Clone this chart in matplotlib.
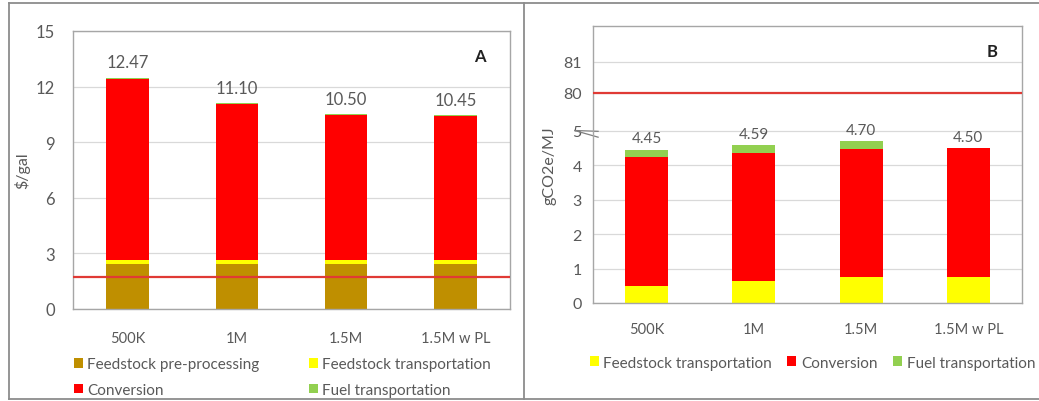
import matplotlib
matplotlib.use("Agg")
import matplotlib.pyplot as plt
import numpy as np
from matplotlib.lines import Line2D

plt.rcParams["font.family"] = ["Lato", "DejaVu Sans"]

# --- data ------------------------------------------------------------------ #
scenarios = ["500K", "1M", "1.5M", "1.5M w PL"]

# A: minimum fuel selling price, $/gal
cost_preproc = [2.45, 2.45, 2.45, 2.45]
cost_fs_trans = [0.20, 0.20, 0.20, 0.20]
cost_conversion = [9.77, 8.40, 7.80, 7.75]
cost_fuel_trans = [0.05, 0.05, 0.05, 0.05]
cost_total = [12.47, 11.10, 10.50, 10.45]
cost_reference = 1.75

# B: GHG emissions, gCO2e/MJ
ghg_fs_trans = [0.48, 0.63, 0.75, 0.75]
ghg_conversion = [3.76, 3.73, 3.73, 3.74]
ghg_fuel_trans = [0.21, 0.23, 0.22, 0.01]
ghg_total = [4.45, 4.59, 4.70, 4.50]
ghg_reference = 80.0

C_PRE = "#bf8f00"
C_FST = "#ffff00"
C_CONV = "#ff0000"
C_FUEL = "#92d050"
C_REF = "#e03a35"
C_TXT = "#595959"
C_GRID = "#d9d9d9"
C_BOX = "#a6a6a6"


def style_axes(ax):
    for s in ax.spines.values():
        s.set_color(C_BOX)
        s.set_linewidth(1.0)
    ax.tick_params(axis="both", length=0, colors=C_TXT, labelsize=12)
    ax.tick_params(axis="x", labelsize=10.5)
    ax.yaxis.grid(True, color=C_GRID, lw=0.9)
    ax.set_axisbelow(True)


def stack(ax, x, layers, width):
    bottom = np.zeros(len(x))
    handles = {}
    for label, vals, color in layers:
        h = ax.bar(x, vals, width, bottom=bottom, color=color, label=label,
                   edgecolor="none", zorder=2)
        handles[label] = h
        bottom += np.asarray(vals)
    return handles


fig = plt.figure(figsize=(10.39, 4.02), dpi=100)
x = np.arange(len(scenarios))

# --- panel A -------------------------------------------------------------- #
axA = fig.add_axes([0.0703, 0.2289, 0.4206, 0.6915])
style_axes(axA)
hA = stack(axA, x, [
    ("Feedstock pre-processing", cost_preproc, C_PRE),
    ("Feedstock transportation", cost_fs_trans, C_FST),
    ("Conversion", cost_conversion, C_CONV),
    ("Fuel transportation", cost_fuel_trans, C_FUEL),
], 0.39)
axA.axhline(cost_reference, color=C_REF, lw=1.6, zorder=3)
for xi, tot in zip(x, cost_total):
    axA.text(xi, tot + 0.4, f"{tot:.2f}", ha="center", va="bottom",
             fontsize=12, color=C_TXT)
axA.set_xlim(-0.5, 3.5)
axA.set_ylim(0, 15)
axA.set_yticks(np.arange(0, 16, 3))
axA.set_xticks(x)
axA.set_xticklabels(scenarios)
axA.tick_params(axis="y", pad=13)
axA.tick_params(axis="x", pad=16)
axA.set_ylabel("$/gal", fontsize=11.5, color=C_TXT, labelpad=4)
axA.text(0.93, 0.91, "A", transform=axA.transAxes, fontsize=12,
         fontweight="bold", color="#222222", ha="center", va="center")
order = ["Feedstock pre-processing", "Conversion",
         "Feedstock transportation", "Fuel transportation"]
axA.legend([hA[k] for k in order], order, ncol=2, loc="upper left",
           bbox_to_anchor=(-0.03, -0.125), frameon=False, fontsize=11,
           labelcolor=C_TXT, handlelength=0.6, handleheight=0.6,
           handletextpad=0.3, columnspacing=3.2, labelspacing=0.75)


# --- panel B: broken axis 0-5 | 80-82 ------------------------------------- #
brk_x = [-10.0, 5.0, 80.0, 100.0]
brk_y = [-10.0, 5.0, 6.1, 24.1]


def fwd(v):
    return np.interp(v, brk_x, brk_y)


def inv(v):
    return np.interp(v, brk_y, brk_x)


axB = fig.add_axes([0.5707, 0.2438, 0.4129, 0.6890])
style_axes(axB)
axB.set_yscale("function", functions=(fwd, inv))
hB = stack(axB, x, [
    ("Feedstock transportation", ghg_fs_trans, C_FST),
    ("Conversion", ghg_conversion, C_CONV),
    ("Fuel transportation", ghg_fuel_trans, C_FUEL),
], 0.40)
axB.axhline(ghg_reference, color=C_REF, lw=1.6, zorder=3)
for xi, tot in zip(x, ghg_total):
    axB.text(xi, tot + 0.12, f"{tot:.2f}", ha="center", va="bottom",
             fontsize=11, color=C_TXT)
axB.set_xlim(-0.5, 3.5)
axB.set_ylim(0, 82.15)
axB.set_yticks([0, 1, 2, 3, 4, 5, 80, 81])
axB.set_xticks(x)
axB.set_xticklabels(scenarios)
axB.tick_params(axis="y", pad=8, labelsize=11.5)
axB.tick_params(axis="x", pad=14)
axB.set_ylabel("gCO2e/MJ", fontsize=11.5, color=C_TXT, labelpad=5)
axB.text(0.93, 0.91, "B", transform=axB.transAxes, fontsize=12,
         fontweight="bold", color="#222222", ha="center", va="center")
# break marks on the value axis
tr = axB.get_yaxis_transform()
for dy in (0.0, -0.17):
    axB.plot([-0.042, 0.012], [5.25 + dy, 4.98 + dy], transform=tr,
             color="#7f7f7f", lw=0.9, clip_on=False)
axB.legend(list(hB.values()), list(hB.keys()), ncol=3, loc="upper left",
           bbox_to_anchor=(-0.04, -0.14), frameon=False, fontsize=11,
           labelcolor=C_TXT, handlelength=0.6, handleheight=0.6,
           handletextpad=0.3, columnspacing=1.0)

# panel frames
for xs, ys in [([0.009, 0.009], [0.005, 0.99]),
               ([0.009, 1.0], [0.99, 0.99]),
               ([0.009, 1.0], [0.005, 0.005]),
               ([0.504, 0.504], [0.005, 0.99])]:
    fig.add_artist(Line2D(xs, ys, color="#8c8c8c", lw=1.3,
                          transform=fig.transFigure))

fig.savefig("out.png", dpi=100, facecolor="white")
